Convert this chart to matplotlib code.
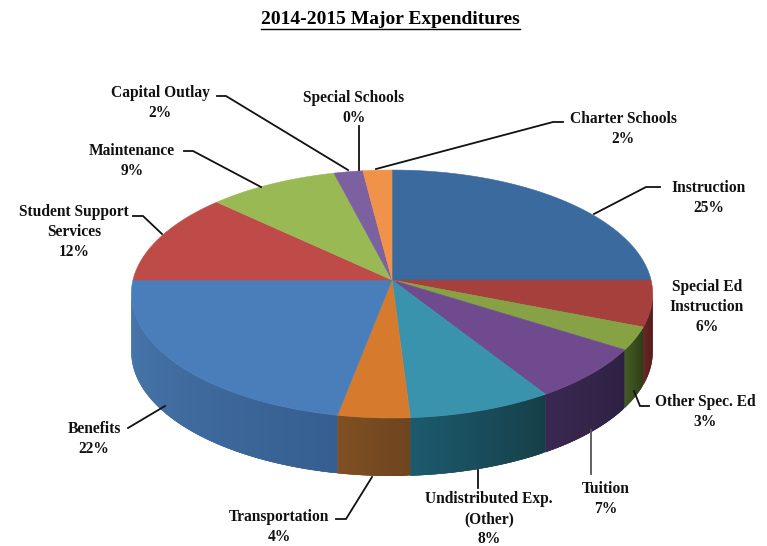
import numpy as np
import matplotlib
matplotlib.use("Agg")
import matplotlib.pyplot as plt

# ---- data ----
categories = ["Instruction", "Special Ed\nInstruction", "Other Spec. Ed", "Tuition",
              "Undistributed Exp.\n(Other)", "Transportation", "Benefits",
              "Student Support\nServices", "Maintenance", "Capital Outlay",
              "Special Schools", "Charter Schools"]
values = [25, 6, 3, 7, 8, 4, 22, 12, 9, 2, 0, 2]
title = "2014-2015 Major Expenditures"

# ---- style ----
top_colors = ["#3b6a9f", "#a5403c", "#86a244", "#6f4a8e", "#3a93ad", "#d67b2e",
              "#4a7ebb", "#be4b48", "#98b954", "#7d60a0", "#4bacc6", "#f0924a"]
wall_colors = [("#2c4f77", "#2c4f77"), ("#3c1414", "#6a2624"), ("#2e3d18", "#435a22"),
               ("#2d2142", "#3a2850"), ("#163f48", "#1c5a6e"), ("#6e4520", "#805022"),
               ("#365f90", "#4a79b0"), ("#8a3634", "#8a3634"), ("#6f8a3c", "#6f8a3c"),
               ("#5a4574", "#5a4574"), ("#333333", "#333333"), ("#b06a30", "#b06a30")]
line_colors = ["#111111", "#111111", "#111111", "#555555", "#111111", "#111111",
               "#111111", "#111111", "#111111", "#111111", "#111111", "#111111"]
CX, CY = 392, 280
A, B, K = 259.0, 122.4, 0.113
DEPTH = 58
SERIF = "Liberation Serif"
FS = 11.2

label_xy = [(709, 198), (707, 307), (705, 412), (606, 499), (489, 519), (279, 527),
            (94, 439), (74, 232), (132, 161), (160, 103), (354, 108), (623, 129)]
leaders = [[(660, 187), (646, 187), (594, 214)],
           [],
           [(649, 406), (640, 406), (634, 391)],
           [(591, 474), (591, 430)],
           [(478, 470), (478, 488)],
           [(372, 477), (346, 519), (336, 519)],
           [(128, 428), (165, 406)],
           [(133, 216), (143, 216), (162, 234)],
           [(184, 151), (193, 151), (261, 187)],
           [(217, 96), (226, 96), (348, 170)],
           [(359, 126), (359, 170)],
           [(563, 122), (553, 122), (376, 169)]]


def project(theta):
    """theta: clockwise angle from 12 o'clock (radians) -> screen px."""
    u, v = np.sin(theta), np.cos(theta)
    w = 1 + K * v
    return CX + A * u / w, CY - B * v / w


def mix(c1, c2, f):
    a = np.array(matplotlib.colors.to_rgb(c1))
    b = np.array(matplotlib.colors.to_rgb(c2))
    return tuple(a + (b - a) * f)


fig = plt.figure(figsize=(7.67, 5.46), dpi=100)
ax = fig.add_axes([0, 0, 1, 1])
ax.set_xlim(0, 767)
ax.set_ylim(546, 0)
ax.axis("off")

edges = 2 * np.pi * np.cumsum([0] + values) / sum(values)

# side wall, built from overlapping strips; only the part that faces the viewer
for i in range(len(values)):
    t0, t1 = edges[i], edges[i + 1]
    if t1 <= t0:
        continue
    n = max(2, int((t1 - t0) / 0.01))
    ts = np.linspace(t0, t1, n + 1)
    for j in range(n):
        if np.cos(0.5 * (ts[j] + ts[j + 1])) > -K:
            continue
        seg = np.array([ts[j], ts[min(j + 3, n)]])
        xs, ys = project(seg)
        col = mix(wall_colors[i][0], wall_colors[i][1], (j + 0.5) / n)
        ax.fill([xs[0], xs[1], xs[1], xs[0]],
                [ys[0], ys[1], ys[1] + DEPTH, ys[0] + DEPTH],
                facecolor=col, edgecolor="none", linewidth=0, zorder=2)

# top face
for i in range(len(values)):
    t0, t1 = edges[i], edges[i + 1]
    if t1 <= t0:
        continue
    ts = np.linspace(t0, t1, max(3, int((t1 - t0) / 0.01)))
    xs, ys = project(ts)
    ax.fill(np.r_[CX, xs], np.r_[CY, ys], facecolor=top_colors[i],
            edgecolor=top_colors[i], linewidth=0.4, zorder=3)

# leader lines and labels
for name, val, xy, pts, lc in zip(categories, values, label_xy, leaders, line_colors):
    if pts:
        ax.plot(*zip(*pts), color=lc, lw=1.3, zorder=4, solid_joinstyle="miter")
    ax.text(xy[0], xy[1], f"{name}\n{val}%", ha="center", va="center", family=SERIF,
            fontweight="bold", fontsize=FS, color="#111111", linespacing=1.32, zorder=5)

ax.text(390, 20, title, ha="center", va="center", family=SERIF, fontweight="bold",
        fontsize=14, color="black")
ax.plot([261, 520], [29, 29], color="black", lw=1.0)

fig.savefig("out.png", dpi=100)
